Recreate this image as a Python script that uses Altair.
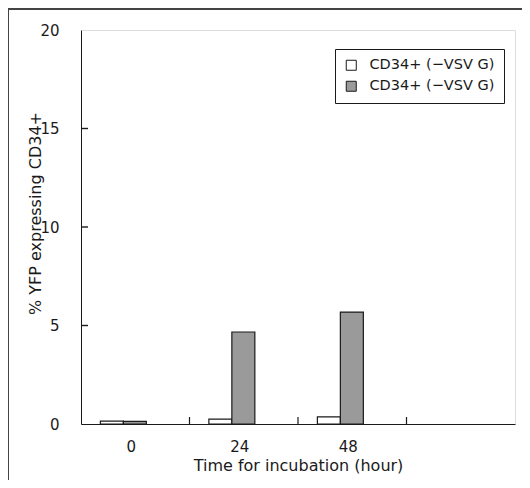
import altair as alt
import pandas as pd

# categories (last one is an empty slot on the axis)
times = ["0", "24", "48", " "]
series = ["CD34+ (−VSV G)", "CD34+ (+VSV G)"]
offset_slots = series + ["_gap"]
legend_text = "CD34+ (−VSV G)"   # both legend entries read the same in the original
white_vals = [0.15, 0.25, 0.36]
gray_vals = [0.13, 4.67, 5.68]
y_ticks = [0, 5, 10, 15, 20]

rows = []
for t, w, g in zip(times[:3], white_vals, gray_vals):
    rows.append({"time": t, "series": series[0], "value": w})
    rows.append({"time": t, "series": series[1], "value": g})
df = pd.DataFrame(rows)
ytick_df = pd.DataFrame({"v": y_ticks[1:-1]})
xtick_df = pd.DataFrame({"time": times[1:]})

FONT = "DejaVu Sans"
INK = "#1a1a1a"

x_scale = alt.Scale(domain=times, paddingInner=0, paddingOuter=0)
y_scale = alt.Scale(domain=[0, 20])

bars = alt.Chart(df).mark_bar(stroke=INK, strokeWidth=1.2).encode(
    x=alt.X(
        "time:N",
        scale=x_scale,
        axis=alt.Axis(
            title="Time for incubation (hour)",
            labelAngle=0,
            ticks=False,
            labelOffset=-4,
            labelPadding=15,
            labelFontSize=15,
            titleFontSize=16,
            titleFontWeight="normal",
            titleBaseline="middle",
            titleY=41,
            domainColor=INK,
            labelColor=INK,
            titleColor=INK,
        ),
    ),
    xOffset=alt.XOffset(
        "series:N",
        scale=alt.Scale(domain=offset_slots, paddingInner=0,
                        paddingOuter=0.86, align=0.49),
    ),
    y=alt.Y(
        "value:Q",
        scale=y_scale,
        axis=alt.Axis(
            title="% YFP expressing CD34+",
            values=y_ticks,
            grid=False,
            ticks=False,
            labelPadding=22,
            labelFontSize=15,
            titleFontSize=16,
            titleFontWeight="normal",
            titleX=-38,
            titleY=183,
            domainColor=INK,
            labelColor=INK,
            titleColor=INK,
        ),
    ),
    fill=alt.Fill(
        "series:N",
        scale=alt.Scale(domain=series, range=["#ffffff", "#9a9a9a"]),
        legend=alt.Legend(
            title=None,
            orient="none",
            legendX=254,
            legendY=19,
            fillColor="#ffffff",
            strokeColor=INK,
            padding=9,
            symbolType="square",
            symbolSize=100,
            symbolStrokeColor=INK,
            symbolStrokeWidth=1,
            labelFontSize=14.5,
            labelColor=INK,
            labelOffset=11,
            rowPadding=5,
            labelExpr=f"'{legend_text}'",
        ),
    ),
)

# inward-pointing tick marks
y_tick_marks = alt.Chart(ytick_df).mark_tick(
    color=INK, orient="horizontal", size=7, thickness=1.4, opacity=1
).encode(
    y=alt.Y("v:Q", scale=y_scale), x=alt.value(3.5)
)
x_tick_marks = alt.Chart(xtick_df).mark_rule(color=INK, strokeWidth=1.2).encode(
    x=alt.X("time:N", scale=x_scale, bandPosition=0),
    y=alt.value(394), y2=alt.value(387),
)

frame_top = alt.Chart(df).mark_rule(color="#444", strokeWidth=1.5).encode(
    x=alt.value(-73), x2=alt.value(460), y=alt.value(-21)
)
frame_left = alt.Chart(df).mark_rule(color="#444", strokeWidth=1.5).encode(
    x=alt.value(-73), y=alt.value(-21), y2=alt.value(470)
)

chart = alt.layer(bars, y_tick_marks, x_tick_marks, frame_top, frame_left).properties(
    width=434,
    height=394,
    autosize=alt.AutoSizeParams(type="none"),
    padding={"left": 73, "top": 22, "right": 7, "bottom": 56},
).configure_view(
    stroke=INK, strokeWidth=1.2
).configure(
    font=FONT
)

chart.save("out.html", embed_options={"renderer": "svg", "actions": False})
